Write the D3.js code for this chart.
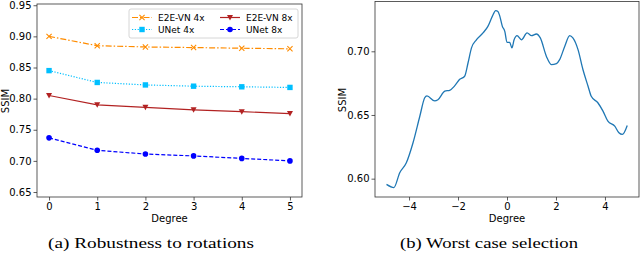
<!DOCTYPE html>
<html><head><meta charset="utf-8">
<script src="https://cdn.jsdelivr.net/npm/d3@7"></script>
<style>body{margin:0;background:#fff}svg{display:block}</style>
</head><body>
<svg id="c" width="640" height="260"></svg>
<script>
// ---- Data: panel (a)
const degreesA = [0, 1, 2, 3, 4, 5];
const e2e4x = [0.900, 0.885, 0.883, 0.882, 0.881, 0.880];
const unet4x = [0.845, 0.826, 0.822, 0.820, 0.819, 0.818];
const e2e8x = [0.805, 0.790, 0.786, 0.782, 0.779, 0.776];
const unet8x = [0.737, 0.717, 0.711, 0.708, 0.704, 0.700];
const yTicksA = [0.65, 0.70, 0.75, 0.80, 0.85, 0.90, 0.95];
const xTicksA = [0, 1, 2, 3, 4, 5];
// ---- Data: panel (b)
const degreesB = [-4.92,-4.62,-4.38,-4.11,-3.84,-3.56,-3.36,-3.27,-2.95,-2.82,-2.54,-2.34,-2.13,-1.93,-1.73,-1.59,-1.45,-1.25,-0.98,-0.78,-0.60,-0.46,-0.37,-0.30,-0.19,-0.09,0.00,0.11,0.20,0.29,0.41,0.59,0.82,1.00,1.20,1.36,1.61,1.81,2.02,2.15,2.36,2.56,2.69,2.90,3.10,3.31,3.44,3.71,3.92,4.12,4.40,4.57,4.71,4.91];
const ssimB = [0.5955,0.593,0.6047,0.6125,0.628,0.649,0.6635,0.665,0.661,0.662,0.6687,0.6694,0.673,0.678,0.6804,0.691,0.7027,0.709,0.7144,0.7196,0.7274,0.732,0.7313,0.728,0.7196,0.7157,0.707,0.707,0.7027,0.709,0.7123,0.709,0.7144,0.7123,0.7136,0.7105,0.696,0.6896,0.6904,0.6935,0.704,0.7123,0.7105,0.7013,0.6857,0.6726,0.6647,0.6596,0.653,0.6451,0.6412,0.636,0.6347,0.6418];
const yTicksB = [0.60, 0.65, 0.70];
const xTicksB = [-4, -2, 0, 2, 4];
const legendLabels = ["E2E-VN 4x", "UNet 4x", "E2E-VN 8x", "UNet 8x"];
const captions = ["(a) Robustness to rotations", "(b) Worst case selection"];

const svg = d3.select("#c");
const font = "DejaVu Sans";
const spine = "#333";

function frame(g, x, y, xt, yt, xfmt, yfmt) {
  const [x0, x1] = x.range(), [y1, y0] = y.range();
  const ax = g.append("g").attr("transform", `translate(0,${y1})`)
    .call(d3.axisBottom(x).tickValues(xt).tickSize(3.5).tickPadding(2).tickFormat(xfmt));
  const ay = g.append("g").attr("transform", `translate(${x0},0)`)
    .call(d3.axisLeft(y).tickValues(yt).tickSize(3.5).tickPadding(2).tickFormat(yfmt));
  [ax, ay].forEach(a => {
    a.select(".domain").remove();
    a.selectAll("line").attr("stroke", spine).attr("stroke-width", 0.8);
    a.selectAll("text").attr("font-family", font).attr("font-size", 10).attr("fill", "#000");
  });
  g.append("rect").attr("x", x0).attr("y", y0).attr("width", x1 - x0).attr("height", y1 - y0)
    .attr("fill", "none").attr("stroke", spine).attr("stroke-width", 0.8);
}

// ---------- Panel (a)
const gA = svg.append("g");
const xA = d3.scaleLinear().domain([-0.25, 5.25]).range([37, 302]);
const yA = d3.scaleLinear().domain([0.642, 0.952]).range([197, 4]);
frame(gA, xA, yA, xTicksA, yTicksA, d3.format("d"), d3.format(".2f"));

const seriesA = [
  {label: legendLabels[0], vals: e2e4x, color: "#ff8c00", dash: "6,2,1.5,2", marker: "x"},
  {label: legendLabels[1], vals: unet4x, color: "#00bfff", dash: "1.2,1.6", marker: "s"},
  {label: legendLabels[2], vals: e2e8x, color: "#b22222", dash: null, marker: "v"},
  {label: legendLabels[3], vals: unet8x, color: "#0000ff", dash: "4,2", marker: "o"}
];
function drawMarker(g, type, cx, cy, color) {
  if (type === "x") {
    const s = 2.6;
    g.append("path").attr("d", `M${cx-s},${cy-s}L${cx+s},${cy+s}M${cx-s},${cy+s}L${cx+s},${cy-s}`)
      .attr("stroke", color).attr("stroke-width", 1.1).attr("fill", "none");
  } else if (type === "s") {
    g.append("rect").attr("x", cx - 2.7).attr("y", cy - 2.7).attr("width", 5.4).attr("height", 5.4).attr("fill", color);
  } else if (type === "v") {
    g.append("path").attr("d", `M${cx-3},${cy-2.5}L${cx+3},${cy-2.5}L${cx},${cy+3}Z`).attr("fill", color);
  } else {
    g.append("circle").attr("cx", cx).attr("cy", cy).attr("r", 2.8).attr("fill", color);
  }
}
const lineA = d3.line().x((d, i) => xA(degreesA[i])).y(d => yA(d));
seriesA.forEach(s => {
  gA.append("path").attr("d", lineA(s.vals)).attr("fill", "none").attr("stroke", s.color)
    .attr("stroke-width", 1.2).attr("stroke-dasharray", s.dash);
  s.vals.forEach((v, i) => drawMarker(gA, s.marker, xA(degreesA[i]), yA(v), s.color));
});
// legend
const lg = gA.append("g");
lg.append("rect").attr("x", 129).attr("y", 9).attr("width", 169).attr("height", 29).attr("rx", 2)
  .attr("fill", "#fff").attr("fill-opacity", 0.85).attr("stroke", "#ccc").attr("stroke-width", 0.8);
const legPos = [[132, 17.5], [132, 29.5], [220, 17.5], [220, 29.5]];
seriesA.forEach((s, i) => {
  const [lx, ly] = legPos[i];
  lg.append("line").attr("x1", lx).attr("x2", lx + 20).attr("y1", ly).attr("y2", ly)
    .attr("stroke", s.color).attr("stroke-width", 1.2).attr("stroke-dasharray", s.dash);
  drawMarker(lg, s.marker, lx + 10, ly, s.color);
  lg.append("text").attr("x", lx + 26).attr("y", ly + 3.3).text(s.label)
    .attr("font-family", font).attr("font-size", 9).attr("fill", "#000");
});
gA.append("text").attr("transform", "translate(8.5,101) rotate(-90)").attr("text-anchor", "middle")
  .attr("font-family", font).attr("font-size", 10).text("SSIM");
gA.append("text").attr("x", 169.5).attr("y", 222).attr("text-anchor", "middle")
  .attr("font-family", font).attr("font-size", 10).text("Degree");
gA.append("text").attr("x", 151).attr("y", 248).attr("text-anchor", "middle")
  .attr("font-family", "Liberation Serif").attr("font-size", 15)
  .attr("textLength", 206).attr("lengthAdjust", "spacingAndGlyphs").text(captions[0]);

// ---------- Panel (b)
const gB = svg.append("g");
const xB = d3.scaleLinear().domain([-5.39, 5.39]).range([375, 639]);
const yB = d3.scaleLinear().domain([0.5856, 0.7391]).range([197, 1.5]);
frame(gB, xB, yB, xTicksB, yTicksB, d3.format("d"), d3.format(".2f"));
const lineB = d3.line().x((d, i) => xB(degreesB[i])).y(d => yB(d)).curve(d3.curveMonotoneX);
gB.append("path").attr("d", lineB(ssimB)).attr("fill", "none").attr("stroke", "#1f77b4").attr("stroke-width", 1.3);
gB.append("text").attr("transform", "translate(345.5,100) rotate(-90)").attr("text-anchor", "middle")
  .attr("font-family", font).attr("font-size", 10).text("SSIM");
gB.append("text").attr("x", 507).attr("y", 222).attr("text-anchor", "middle")
  .attr("font-family", font).attr("font-size", 10).text("Degree");
gB.append("text").attr("x", 489).attr("y", 248).attr("text-anchor", "middle")
  .attr("font-family", "Liberation Serif").attr("font-size", 15)
  .attr("textLength", 178).attr("lengthAdjust", "spacingAndGlyphs").text(captions[1]);
</script>
</body></html>
